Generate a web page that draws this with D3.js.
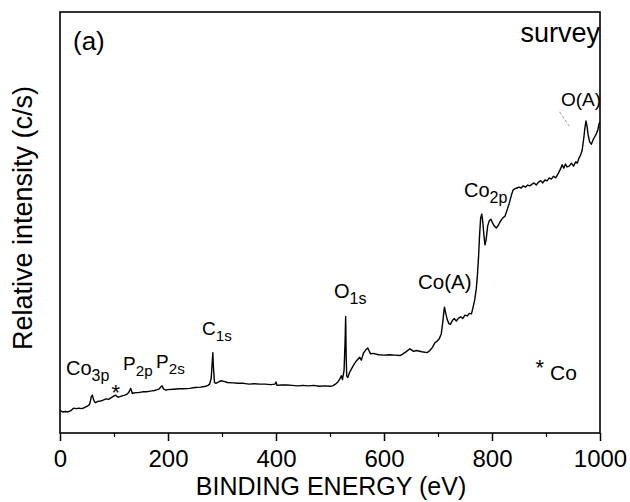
<!DOCTYPE html>
<html><head><meta charset="utf-8">
<script src="https://cdn.jsdelivr.net/npm/d3@7/dist/d3.min.js"></script>
<style>body{margin:0;background:#fff}text{font-family:"Liberation Sans",Arial,sans-serif;fill:#000}</style>
</head><body><svg id="c" width="630" height="502"></svg>
<script>
// binding energy (eV)
const energy = [0,5,10,15,20,25,30,35,40,45,50,53,55,57,58,60,62,64,66,70,75,80,85,90,95,100,103,105,108,110,115,120,125,128,131,134,137,140,145,150,155,160,165,170,175,180,184,187,189,192,196,200,210,220,230,240,250,260,265,270,274,277,280,282,283,284,286,288,292,296,300,305,310,320,330,340,350,360,370,380,390,398,400,402,410,420,430,440,450,460,470,480,490,500,505,510,515,518,521,523,526,528,529,530,531,533,536,540,545,550,555,558,562,566,570,575,580,590,600,610,620,630,640,
  648,655,660,670,680,685,690,694,698,702,706,709,711,712,714,717,720,723,727,730,734,738,742,746,750,754,758,762,765,
  768,771,773,775,777,779,781,783,785,787,789,792,795,798,801,804,808,812,816,820,824,828,832,836,839,842,846,850,854,858,862,866,870,874,878,882,886,890,894,898,902,906,910,914,918,922,926,930,933,936,939,943,947,951,955,958,961,964,967,970,972,974,976,978,981,984,987,990,993,996,998,1000];
// relative intensity (arb. units, 0–100 frame)
const intensity = [5.3,5.0,5.1,5.0,5.3,5.9,5.8,5.9,5.8,6.0,6.3,6.6,6.9,8.0,8.7,9.0,8.0,7.4,7.2,7.5,7.6,7.8,8.1,8.0,8.4,8.8,9.0,8.7,8.5,8.6,8.8,9.0,9.3,9.8,10.6,9.4,9.5,9.6,9.6,9.7,9.8,9.8,9.9,10.0,10.1,10.3,10.5,11.0,11.2,10.4,10.2,10.3,10.4,10.5,10.5,10.6,10.8,10.9,11.0,11.1,11.3,11.6,13.0,17.0,19.1,16.0,12.0,11.8,12.0,12.3,12.4,12.2,12.0,11.9,11.8,11.8,11.6,11.7,11.6,11.6,11.5,11.6,12.1,11.3,11.4,11.4,11.3,11.2,11.3,11.2,11.3,11.1,11.2,11.1,11.2,11.6,12.2,12.8,13.6,12.7,14.8,22.0,27.7,18.0,13.5,13.2,14.3,15.3,16.4,17.3,18.0,17.3,19.0,19.7,20.2,18.8,18.9,18.6,18.5,18.6,18.5,18.4,19.2,
  20.0,19.4,19.6,19.3,19.1,19.6,20.4,21.4,21.8,22.3,23.5,26.5,29.0,29.9,28.6,27.0,26.0,25.8,26.8,27.2,26.6,27.3,27.6,27.2,28.0,27.8,28.4,28.3,29.9,
  31.6,34.4,37.5,41.6,47.0,51.1,52.0,50.1,47.0,44.7,45.8,49.2,50.4,50.8,49.9,49.2,48.7,49.4,50.4,51.1,51.5,53.0,54.6,56.5,57.7,58.0,58.2,58.4,58.2,58.7,58.4,58.9,58.7,59.1,59.4,58.9,59.6,59.9,59.4,60.1,59.9,60.6,60.3,61.0,60.6,61.5,62.5,63.7,62.9,63.9,63.2,63.4,64.1,63.4,64.4,64.1,65.3,66.0,67.2,70.1,72.4,74.1,72.9,70.8,69.1,68.6,69.6,70.3,71.0,72.0,73.4,73.9];

const xTicks = [0,200,400,600,800,1000];
const xMinor = [100,300,500,700,900];

const svg = d3.select("#c");
const L=60,R=600,T=12,B=433;
const x = d3.scaleLinear().domain([0,1000]).range([L,R]);
const y = d3.scaleLinear().domain([0,100]).range([B,T]);

// frame
svg.append("rect").attr("x",L).attr("y",T).attr("width",R-L).attr("height",B-T)
  .attr("fill","none").attr("stroke","#000").attr("stroke-width",1.6);

// x axis
const ax = svg.append("g").attr("transform",`translate(0,${B})`)
  .call(d3.axisBottom(x).tickValues(xTicks).tickSize(8).tickFormat(d3.format("d")));
ax.select(".domain").remove();
ax.selectAll("line").attr("stroke-width",1.5);
ax.selectAll("text").style("font-size","24px").attr("y",34).attr("dy",0);
const axm = svg.append("g").attr("transform",`translate(0,${B})`)
  .call(d3.axisBottom(x).tickValues(xMinor).tickSize(4).tickFormat(""));
axm.select(".domain").remove();
axm.selectAll("line").attr("stroke-width",1.2);

// spectrum
const n = Math.min(energy.length, intensity.length);
const pts = d3.range(n).map(i=>[energy[i],intensity[i]]);
svg.append("path").datum(pts)
  .attr("d", d3.line().x(d=>x(d[0])).y(d=>y(d[1])))
  .attr("fill","none").attr("stroke","#000").attr("stroke-width",1.4).attr("stroke-linejoin","round");

// stray mark near O(A)
svg.append("line").attr("x1",x(925)).attr("y1",y(76.3)).attr("x2",x(943)).attr("y2",y(72.9))
  .attr("stroke","#999").attr("stroke-width",1).attr("stroke-dasharray","3,2");

// axis titles
svg.append("text").attr("x",331).attr("y",495).attr("text-anchor","middle")
  .style("font-size","25px").text("BINDING ENERGY (eV)");
svg.append("text").attr("transform","translate(32,218) rotate(-90)").attr("text-anchor","middle")
  .style("font-size","27px").text("Relative intensity (c/s)");

// annotations
function lab(px,py,main,sub,size,subDy){
  const t = svg.append("text").attr("x",px).attr("y",py).style("font-size",size+"px");
  t.append("tspan").text(main);
  if(sub) t.append("tspan").attr("dy",subDy||size*0.33).style("font-size",(size*0.8)+"px").text(sub);
  return t;
}
lab(73,50,"(a)",null,26);
svg.append("text").attr("x",600).attr("y",42).attr("text-anchor","end").style("font-size","27px").text("survey");
lab(561,106,"O(A)",null,19);
lab(464,197,"Co","2p",20,6);
lab(418,289,"Co(A)",null,20.5);
lab(334,298,"O","1s",20,6);
lab(202,335,"C","1s",19,6);
lab(66,375,"Co","3p",20,6);
lab(123,370,"P","2p",19,6);
lab(156,368,"P","2s",19,6);
svg.append("text").attr("x",111.5).attr("y",399.5).style("font-size","22px").text("*");
svg.append("text").attr("x",535.5).attr("y",374.5).style("font-size","22px").text("*");
lab(550,380,"Co",null,21);
</script></body></html>
